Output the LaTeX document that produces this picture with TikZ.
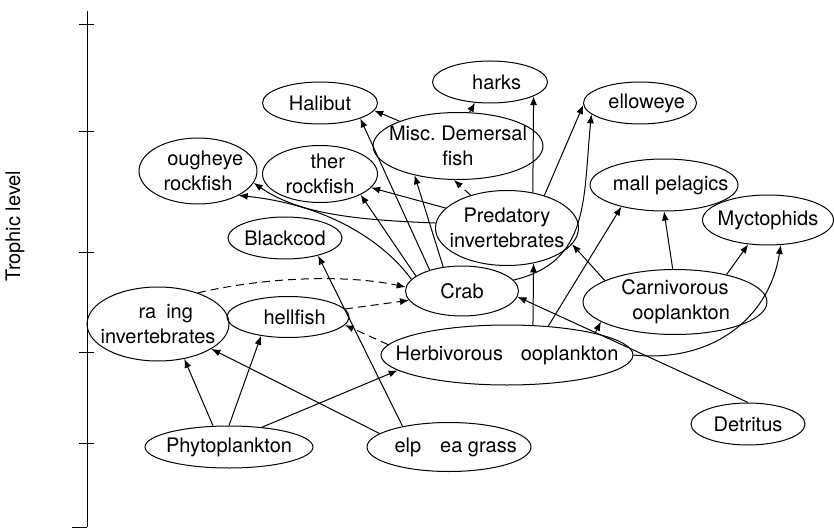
\documentclass[tikz,border=0pt]{standalone}
\usepackage{fontspec}
\setmainfont{TeX Gyre Heros}
\usetikzlibrary{shapes.geometric,arrows.meta}
\newcommand{\taxon}[5]{ % naam, positie, breedte, hoogte, tekst
    \node[taxon, minimum width=#3pt, minimum height=#4pt] (#1) at (#2) {};
    \node[align=center] at (#1) {#5};
}

\begin{document}
\begin{tikzpicture}[x=1pt, y=-1pt, line width=1pt,
        font=\fontsize{20}{25}\selectfont,
        taxon/.style={ellipse, draw, inner sep=0pt},
        uncertain/.style={->, dash pattern=on 8pt off 5pt},
        >={Latex[length=9pt,width=7pt]}]
    \useasboundingbox (0,0) rectangle (834,529);
    % as
    \draw (87,11) -- (87,527);
    \foreach \y in {25,132,252,352,443}
        \draw (79,\y) -- (94,\y);
    \draw (72,527) -- (87,527);
    \node[rotate=90] (axislabel) at (15,226) {Trophic level};

    \taxon{halibut}{320,103}{115}{42}{Halibut}
    \taxon{sharks}{490,82}{115}{42}{\phantom{S}harks}
    \taxon{yellow}{640,103}{113}{42}{\phantom{Y}elloweye}
    \taxon{misc}{458,146}{170}{67}{Misc.\ Demersal\\fish}
    \taxon{rough}{198,171}{118}{66}{\phantom{R}ougheye\\rockfish}
    \taxon{other}{320,174}{115}{57}{\phantom{O}ther\\rockfish}
    \taxon{blackcod}{285,238}{114}{42}{Blackcod}
    \taxon{pred}{507,228}{143}{75}{Predatory\\invertebrates}
    \taxon{small}{664,185}{148}{52}{\phantom{S}mall pelagics}
    \taxon{mycto}{768,220}{131}{50}{Myctophids}
    \taxon{crab}{462,291}{113}{50}{Crab}
    \taxon{carn}{675,302}{184}{65}{Carnivorous\\\phantom{Z}ooplankton}
    \taxon{herb}{507,355}{252}{60}{Herbivorous \phantom{Z}ooplankton}
    \taxon{grazing}{158,324}{142}{74}{\phantom{G}ra\phantom{z}ing\\invertebrates}
    \taxon{shell}{288,317}{122}{41}{\phantom{S}hellfish}
    \taxon{phyto}{229,447}{168}{42}{Phytoplankton}
    \taxon{kelp}{449,447}{164}{49}{\phantom{K}elp \phantom{S}ea grass}
    \taxon{detritus}{748,424}{114}{42}{Detritus}

    \draw[->] (phyto.127) -- (grazing.307);
    \draw[->] (phyto.90) -- (shell.215);
    \draw[->] (phyto.31) -- (herb.188);
    \draw[->] (kelp.169) -- (grazing.335);
    \draw[->] (kelp.156) -- (blackcod.332);
    \draw[->] (detritus.90) -- (crab.354);
    \draw[uncertain] (herb.175) -- (shell.352);
    \draw[->] (herb.49) -- (pred.307);
    \draw[->] (herb.35) -- (small.207);
    \draw[->] (herb.14) -- (carn.195);
    \draw[->] (herb.east) .. controls (710,363) and (769,320) .. (mycto.297);
    \draw[->] (crab.162) -- (other.333);
    \draw[->] (crab.147) -- (halibut.339);
    \draw[->] (crab.128) -- (misc.214);
    \draw[->] (crab.167) .. controls (385,243) and (330,205) .. (rough.329);
    \draw[->] (crab.12) .. controls (590,262) and (583,200) .. (yellow.193);
    \draw[->] (pred.162) -- (other.345);
    \draw[->] (pred.176) .. controls (360,220) and (300,215) .. (rough.348);
    \draw[uncertain] (pred.138) -- (misc.263);
    \draw[->] (pred.54) -- (sharks.342);
    \draw[->] (pred.41) -- (yellow.182);
    \draw[->] (misc.157) -- (halibut.352);
    \draw[->] (misc.71) -- (sharks.234);
    \draw[->] (carn.163) -- (pred.346);
    \draw[->] (carn.94) -- (small.270);
    \draw[->] (carn.28) -- (mycto.231);
    \draw[uncertain] (grazing.38) .. controls (270,276) and (350,275) .. (crab.176);
    \draw[uncertain] (shell.8) -- (crab.190);
\end{tikzpicture}
\end{document}
